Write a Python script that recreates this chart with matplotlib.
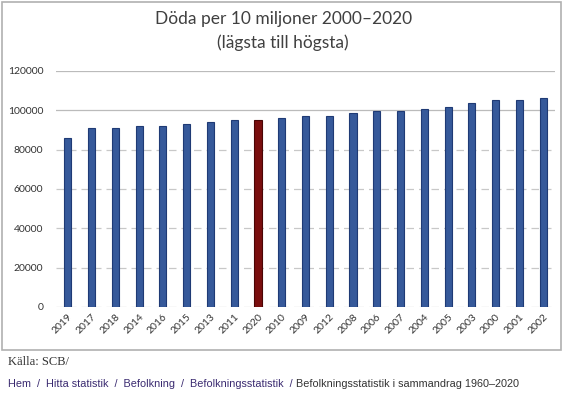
import matplotlib.pyplot as plt
from matplotlib.patches import Rectangle

# Döda per 10 miljoner, sorterat från lägsta till högsta
years = ['2019', '2017', '2018', '2014', '2016', '2015', '2013', '2011', '2020', '2010',
         '2009', '2012', '2008', '2006', '2007', '2004', '2005', '2003', '2000', '2001', '2002']
deaths = [85900, 91000, 91000, 92000, 92000, 93000, 94000, 95100, 95100, 96100,
          97100, 97100, 98600, 99700, 99700, 100700, 101700, 103900, 105300, 105300, 106300]
highlight = '2020'

yticks = [0, 20000, 40000, 60000, 80000, 100000, 120000]

plt.rcParams['font.family'] = ['Lato', 'DejaVu Sans']

fig = plt.figure(figsize=(5.71, 4.12), dpi=100)
ax = fig.add_axes([0.098, 0.255, 0.874, 0.573])

colors = ['#7a0e0e' if y == highlight else '#36599a' for y in years]
edges = ['#4a0505' if y == highlight else '#1f3a75' for y in years]
ax.bar(range(len(years)), deaths, width=0.3, color=colors, edgecolor=edges, linewidth=0.8, zorder=3)

ax.set_xlim(-0.5, len(years) - 0.5)
ax.set_ylim(0, 120000)
ax.set_yticks(yticks)
ax.set_yticklabels([str(v) for v in yticks], fontsize=7.5, color='#333333')
ax.set_xticks(range(len(years)))
ax.set_xticklabels(years, rotation=45, fontsize=7.5, color='#333333', ha='right', rotation_mode='anchor')
ax.tick_params(axis='y', length=0, pad=9)
ax.tick_params(axis='x', length=0, pad=4)

for v in yticks:
    if v >= 100000:
        ax.axhline(v, color='#bbbbbb', linewidth=0.9, zorder=1)
    else:
        ax.axhline(v, color='#c8c8c8', linewidth=0.9, linestyle=(0, (6, 4)), zorder=1)

for s in ax.spines.values():
    s.set_visible(False)

fig.text(0.496, 0.953, 'Döda per 10 miljoner 2000–2020', ha='center', va='center',
         fontsize=12.5, color='#404040')
fig.text(0.496, 0.896, '(lägsta till högsta)', ha='center', va='center',
         fontsize=12.5, color='#404040')

# ram runt diagrammet
fig.patches.append(Rectangle((0.004, 0.150), 0.979, 0.845, transform=fig.transFigure,
                             fill=False, edgecolor='#b0b0b0', linewidth=1.2))

fig.text(0.014, 0.121, 'Källa: SCB/', ha='left', va='center', fontsize=9,
         family='Liberation Serif', color='#333333')
crumbs = fig.text(0.014, 0.068, 'Hem  /  Hitta statistik  /  Befolkning  /  Befolkningsstatistik  /',
                  ha='left', va='center', fontsize=7.8, family='Liberation Sans',
                  color='#3a2a70')
fig.canvas.draw()
bb = crumbs.get_window_extent().transformed(fig.transFigure.inverted())
fig.text(bb.x1 + 0.006, 0.068, 'Befolkningsstatistik i sammandrag 1960–2020',
         ha='left', va='center', fontsize=7.8, family='Liberation Sans', color='#333333')

fig.savefig('out.png', dpi=100)
